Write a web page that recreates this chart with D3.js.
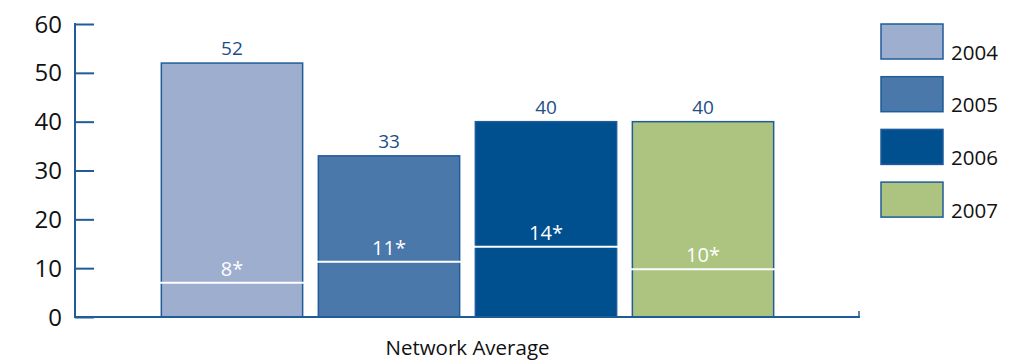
<!DOCTYPE html>
<html><head><meta charset="utf-8">
<script src="https://cdn.jsdelivr.net/npm/d3@7"></script>
<style>body{margin:0;background:#fff}svg{display:block}text{font-family:"Open Sans","Noto Sans",sans-serif}</style>
</head><body>
<svg id="c" width="1014" height="363"></svg>
<script>
const categories = ["Network Average"];
const years = ["2004","2005","2006","2007"];
const values = [52, 33, 40, 40];
const benchmarkValues = [7, 11.3, 14.4, 9.8];
const benchmarkLabels = ["8*","11*","14*","10*"];
const yTicks = [0,10,20,30,40,50,60];
const colors = ["#9daecf","#4a78ab","#00508f","#acc47f"];

const svg = d3.select("#c");
const axisColor = "#1f5c99";
const y = d3.scaleLinear().domain([0,60]).range([317,24]);
const x0 = d3.scaleBand().domain(categories).range([75,860]).paddingOuter(0.141).paddingInner(0);
const x1 = d3.scaleBand().domain(years).range([0, x0.bandwidth()]).paddingInner(0.1).paddingOuter(0);
const color = d3.scaleOrdinal().domain(years).range(colors);

const data = years.map((yr,i)=>({yr, v:values[i], b:benchmarkValues[i], bl:benchmarkLabels[i], cat:categories[0]}));

// bars
const g = svg.append("g");
g.selectAll("rect.bar").data(data).join("rect")
  .attr("x", d=>x0(d.cat)+x1(d.yr))
  .attr("y", d=>y(d.v))
  .attr("width", x1.bandwidth())
  .attr("height", d=>y(0)-y(d.v))
  .attr("fill", d=>color(d.yr))
  .attr("stroke", axisColor).attr("stroke-width", 1.5);

// value labels
g.selectAll("text.val").data(data).join("text")
  .attr("x", d=>x0(d.cat)+x1(d.yr)+x1.bandwidth()/2)
  .attr("y", d=>y(d.v)-8)
  .attr("text-anchor","middle").attr("font-size",19).attr("fill","#1d4f86")
  .text(d=>d.v);

// benchmark lines
g.selectAll("line.bm").data(data).join("line")
  .attr("x1", d=>x0(d.cat)+x1(d.yr)-1.5)
  .attr("x2", d=>x0(d.cat)+x1(d.yr)+x1.bandwidth()+1.5)
  .attr("y1", d=>y(d.b)).attr("y2", d=>y(d.b))
  .attr("stroke","#fff").attr("stroke-width",2);
g.selectAll("text.bm").data(data).join("text")
  .attr("x", d=>x0(d.cat)+x1(d.yr)+x1.bandwidth()/2)
  .attr("y", d=>y(d.b)-7)
  .attr("text-anchor","middle").attr("font-size",20).attr("fill","#fff")
  .text(d=>d.bl);

// y axis
const yAxis = d3.axisRight(y).tickValues(yTicks).tickSize(19).tickFormat("");
const ya = svg.append("g").attr("transform","translate(75,0)").call(yAxis);
ya.select(".domain").remove();
ya.selectAll(".tick line").attr("stroke",axisColor).attr("stroke-width",2);
svg.append("line").attr("x1",75).attr("x2",75).attr("y1",y(60)-1).attr("y2",y(0)+1)
  .attr("stroke",axisColor).attr("stroke-width",2);
svg.selectAll("text.yt").data(yTicks).join("text")
  .attr("x",62).attr("y",d=>y(d)+8.5).attr("text-anchor","end")
  .attr("font-size",24).attr("fill","#111").text(d=>d);

// x axis
svg.append("line").attr("x1",74).attr("x2",860).attr("y1",y(0)).attr("y2",y(0))
  .attr("stroke",axisColor).attr("stroke-width",2);
svg.append("line").attr("x1",859).attr("x2",859).attr("y1",y(0)-6).attr("y2",y(0))
  .attr("stroke",axisColor).attr("stroke-width",1.5);
svg.append("text").attr("x",x0(categories[0])+x0.bandwidth()/2).attr("y",355)
  .attr("text-anchor","middle").attr("font-size",20.5).attr("fill","#111").text(categories[0]);

// legend
const lg = svg.append("g").selectAll("g").data(years).join("g")
  .attr("transform",(d,i)=>`translate(881,${24+i*52.7})`);
lg.append("rect").attr("width",62).attr("height",35).attr("fill",d=>color(d))
  .attr("stroke",axisColor).attr("stroke-width",1.5);
lg.append("text").attr("x",70).attr("y",35.5).attr("font-size",20.5).attr("fill","#111").text(d=>d);
</script>
</body></html>
